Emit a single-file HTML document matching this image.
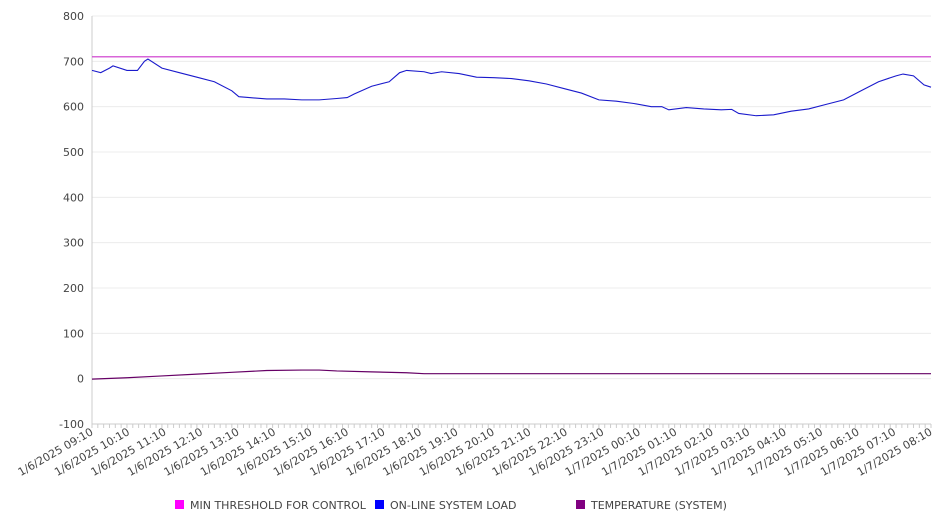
<!DOCTYPE html>
<html><head><meta charset="utf-8"><style>
body{margin:0;background:#fff;}
svg{display:block;font-family:"DejaVu Sans","Liberation Sans",sans-serif;}
</style></head><body>
<svg id="chart" width="946" height="526" viewBox="0 0 946 526" xmlns="http://www.w3.org/2000/svg">
<g id="grid"></g>
<g id="yaxis"></g>
<g id="xaxis"></g>
<g id="series"></g>
<g id="legend">
 <g><rect x="175" y="500" width="9" height="9" fill="#ff00ff"/><text x="190" y="509" font-size="11" fill="#444">MIN THRESHOLD FOR CONTROL</text></g>
 <g><rect x="375" y="500" width="9" height="9" fill="#0000ff"/><text x="390" y="509" font-size="11" fill="#444">ON-LINE SYSTEM LOAD</text></g>
 <g><rect x="576" y="500" width="9" height="9" fill="#800080"/><text x="591" y="509" font-size="11" fill="#444">TEMPERATURE (SYSTEM)</text></g>
</g>
</svg>
<script>
const yTicks=[-100,0,100,200,300,400,500,600,700,800];
const xLabels=["1/6/2025 09:10","1/6/2025 10:10","1/6/2025 11:10","1/6/2025 12:10","1/6/2025 13:10","1/6/2025 14:10","1/6/2025 15:10","1/6/2025 16:10","1/6/2025 17:10","1/6/2025 18:10","1/6/2025 19:10","1/6/2025 20:10","1/6/2025 21:10","1/6/2025 22:10","1/6/2025 23:10","1/7/2025 00:10","1/7/2025 01:10","1/7/2025 02:10","1/7/2025 03:10","1/7/2025 04:10","1/7/2025 05:10","1/7/2025 06:10","1/7/2025 07:10","1/7/2025 08:10"];
const thresholdValue=710;
const loadHours=[0,0.25,0.5,0.6,1,1.3,1.5,1.6,2,2.5,3,3.5,4,4.2,4.5,5,5.5,6,6.5,7,7.3,7.5,8,8.5,8.8,9,9.5,9.7,10,10.5,11,11.5,12,12.5,13,13.5,14,14.5,15,15.5,16,16.3,16.5,17,17.5,18,18.3,18.5,19,19.5,20,20.5,21,21.5,22,22.5,23,23.2,23.5,23.8,24];
const loadValues=[680,675,685,690,680,680,700,705,685,675,665,655,635,622,620,617,617,615,615,618,620,628,645,655,675,680,677,673,677,673,665,664,662,657,650,640,630,615,612,607,600,600,593,598,595,593,594,585,580,582,590,595,605,615,635,655,668,672,668,648,643];
const tempHours=[0,1,2,3,4,5,6,6.5,7,8,9,9.5,12,24];
const tempValues=[-1,2,6,10,14,18,19,19,17,15,13,11,11,11];

const X0=92,X1=931,Y0=424,Y1=16,NS="http://www.w3.org/2000/svg";
const xs=h=>X0+(X1-X0)*h/24;
const xl=i=>X0+(X1-X0)*i/(xLabels.length-1);
const ys=v=>Y0-(Y0-Y1)*(v+100)/900;
function mk(t,a,p){const e=document.createElementNS(NS,t);for(const k in a)e.setAttribute(k,a[k]);p.appendChild(e);return e;}
const grid=document.getElementById('grid'),ya=document.getElementById('yaxis'),xa=document.getElementById('xaxis'),se=document.getElementById('series');
yTicks.forEach(v=>{
 const l=mk('line',{x1:X0,x2:X1,y1:ys(v),y2:ys(v),stroke:'#ececec'},grid);
 
 
 const t=mk('text',{x:X0-8,y:ys(v)+4,'text-anchor':'end','font-size':11,fill:'#444'},ya);
 t.textContent=v;
 
 
});
mk('line',{x1:X0,x2:X0,y1:Y1,y2:Y0,stroke:'#ccc'},ya);
mk('line',{x1:X0,x2:X1,y1:Y0,y2:Y0,stroke:'#ccc'},xa);
for(let i=0;i<=144;i++){const x=X0+(X1-X0)*i/144;mk('line',{x1:x,x2:x,y1:Y0,y2:Y0+4,stroke:'#ccc'},xa);}
xLabels.forEach((s,i)=>{
 const x=xl(i)+2,y=Y0+10;
 const t=mk('text',{x:x,y:y,'text-anchor':'end','font-size':11,fill:'#444',transform:`rotate(-30 ${x} ${y})`},xa);
 t.textContent=s;
 
 
});
const th=mk('line',{x1:X0,x2:X1,y1:ys(thresholdValue),y2:ys(thresholdValue),stroke:'#cc33cc','stroke-width':1.2},se);


const lp=mk('polyline',{points:loadHours.map((h,i)=>xs(h)+','+ys(loadValues[i])).join(' '),fill:'none',stroke:'#1a1acc','stroke-width':1.1},se);


const tp=mk('polyline',{points:tempHours.map((h,i)=>xs(h)+','+ys(tempValues[i])).join(' '),fill:'none',stroke:'#660066','stroke-width':1.2},se);


</script>
</body></html>
